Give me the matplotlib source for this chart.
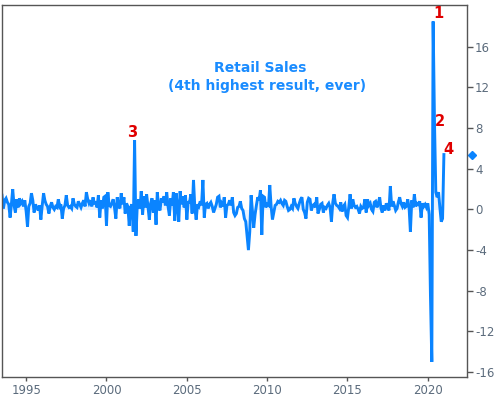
import matplotlib
matplotlib.use("Agg")
import matplotlib.pyplot as plt
import matplotlib.transforms as mtransforms
import pandas as pd

# Monthly % change in retail sales, Jul 1993 - Jan 2021
v1993 = [1.4, 0.1, 0.9, 1.1, 0.7, 0.5]
v1994 = [-0.8, 0.6, 2.0, 0.4, -0.3, 1.0, 0.2, 1.1, 0.6, 0.8, 0.3, 0.9]
v1995 = [-0.2, -1.7, 0.3, 0.6, 1.6, 0.9, -0.3, 0.5, 0.2, -0.1, 0.4, -1.0]
v1996 = [0.4, 1.6, 0.9, 0.5, 0.3, -0.4, 0.3, 0.7, 0.2, 0.0, 0.3, 0.2]
v1997 = [1.0, 0.3, 0.5, -0.9, 0.1, 0.4, 1.4, 0.4, 0.2, 0.3, 0.1, 1.1]
v1998 = [0.5, 0.3, 0.2, 0.8, 0.5, 0.2, 0.6, 0.9, 0.3, 1.7, 1.0, 0.6]
v1999 = [0.9, 0.3, 1.2, 0.5, 0.8, 0.2, 1.4, -0.8, 0.9, 0.1, 1.2, 1.3]
v2000 = [-1.6, 1.7, 0.4, 0.3, 0.6, 1.0, 0.2, -0.9, 1.2, 0.4, 0.1, 1.6]
v2001 = [0.5, 1.2, -0.4, 0.6, 0.3, -1.6, 0.2, 0.5, -2.2, 6.8, -2.6, 0.4]
v2002 = [1.0, 0.1, 1.8, -0.5, 1.3, 0.2, 1.5, 0.3, -1.0, 0.6, 1.1, -0.3]
v2003 = [0.9, -1.5, 1.7, 0.2, -0.1, 1.1, 0.7, 1.3, 0.4, 1.7, 0.3, -0.6]
v2004 = [1.1, 0.4, 1.7, -1.1, 1.6, 0.3, -1.2, 1.8, 0.5, 1.3, 0.2, 1.4]
v2005 = [-1.0, 0.8, 0.6, 1.5, -0.4, 2.9, 0.2, -1.0, 0.5, 0.3, 0.8, 0.4]
v2006 = [2.9, -0.8, 0.5, 0.6, 0.1, 0.5, 0.7, 0.3, -0.3, 0.1, 0.5, 1.2]
v2007 = [1.3, 0.2, 0.6, 0.3, 1.2, -0.8, 0.4, 0.5, 0.9, 0.4, 1.2, -0.3]
v2008 = [-0.6, -0.4, 0.2, 0.3, 0.8, 0.1, -0.1, -0.9, -1.2, -2.6, -4.0, -2.2]
v2009 = [1.4, -0.2, -1.8, -0.5, 0.4, 1.2, 0.9, 1.9, -2.5, 1.3, 1.2, 0.2]
v2010 = [0.5, 0.4, 2.4, 0.3, -1.0, -0.3, 0.4, 0.5, 0.8, 0.7, 0.9, 0.6]
v2011 = [0.4, 0.9, 0.8, 0.3, -0.1, 0.0, 0.3, 0.1, 1.1, 0.6, 0.3, 0.1]
v2012 = [0.6, 1.0, 1.2, 0.0, -0.3, -0.9, 0.7, 1.1, 1.0, -0.1, 0.4, 0.5]
v2013 = [0.2, 1.2, -0.4, 0.0, 0.5, 0.6, -0.3, 0.2, 0.1, 0.4, 0.6, 0.2]
v2014 = [-1.2, 0.7, 1.5, 0.6, 0.4, 0.3, 0.1, 0.7, -0.2, 0.3, 0.5, -0.6]
v2015 = [-0.8, 0.3, 1.5, 0.1, 1.0, 0.4, 0.2, 0.3, 0.0, -0.4, 0.3, 0.1]
v2016 = [0.2, 1.0, -0.3, 1.0, 0.4, 0.6, 0.0, -0.2, 0.7, 0.8, 0.2, 0.6]
v2017 = [1.2, 0.1, -0.3, 0.4, -0.1, 0.6, 0.3, -0.1, 2.3, 0.3, 0.8, 0.4]
v2018 = [-0.1, 0.1, 0.7, 1.2, 0.6, 0.3, 0.7, 0.2, 0.3, 1.0, 0.2, -2.2]
v2019 = [0.9, 0.2, 1.5, 0.3, 0.6, 0.5, 0.8, -0.8, 0.6, 0.3, 0.5, 0.2]
v2020 = [0.6, -0.5, -8.4, -15.0, 18.5, 8.5, 1.7, 1.2, 1.7, 0.2, -1.2, -0.9]
v2021 = [5.4]

values = (v1993 + v1994 + v1995 + v1996 + v1997 + v1998 + v1999 + v2000 + v2001
          + v2002 + v2003 + v2004 + v2005 + v2006 + v2007 + v2008 + v2009 + v2010
          + v2011 + v2012 + v2013 + v2014 + v2015 + v2016 + v2017 + v2018 + v2019
          + v2020 + v2021)
dates = pd.date_range("1993-07-01", periods=len(values), freq="MS")

yticks = [-16, -12, -8, -4, 0, 4, 8, 12, 16]
xtick_years = [1995, 2000, 2005, 2010, 2015, 2020]
title_lines = ["Retail Sales", "(4th highest result, ever)"]
rank_labels = {"1": "2020-05-01", "2": "2020-06-01", "3": "2001-10-01", "4": "2021-01-01"}

blue = "#0a84ff"
red = "#e00000"
gray = "#555555"
tickc = "#5b6b7c"

fig = plt.figure(figsize=(5.03, 3.97), dpi=100)
ax = fig.add_axes([0.004, 0.050, 0.924, 0.937])

ax.fill_between(dates, values, 0, color=blue, alpha=0.1, linewidth=0)
ax.plot(dates, values, color=blue, lw=2.1, solid_joinstyle="miter")

ax.set_ylim(-16.5, 20.1)
ax.set_xlim(dates[0], pd.Timestamp("2022-06-05"))
ax.yaxis.tick_right()
ax.set_yticks(yticks)
ax.set_yticklabels([str(t) for t in yticks])
ax.set_xticks([pd.Timestamp(f"{y}-01-01") for y in xtick_years])
ax.set_xticklabels([str(y) for y in xtick_years])
ax.tick_params(axis="y", which="both", direction="out", length=4, width=1,
               color=gray, labelcolor=tickc, labelsize=8.5, pad=2)
ax.tick_params(axis="x", which="both", direction="out", length=3, width=1,
               color=gray, labelcolor=tickc, labelsize=8.5, pad=2)
for s in ax.spines.values():
    s.set_color(gray)
    s.set_linewidth(1)

# last-value marker outside the axes
trans = mtransforms.blended_transform_factory(ax.transAxes, ax.transData)
ax.plot([1.011], [values[-1]], marker="D", ms=4, color=blue, transform=trans,
        clip_on=False, lw=0)

ax.text(pd.Timestamp("2009-08-01"), 13.9, title_lines[0], color="#1a8cff",
        fontsize=10, fontweight="bold", ha="center", va="center")
ax.text(pd.Timestamp("2010-01-01"), 12.1, title_lines[1], color="#1a8cff",
        fontsize=10, fontweight="bold", ha="center", va="center")

offsets = {"1": (4, 0), "2": (4, -4), "3": (-1.5, 0), "4": (3, -2)}
for lab, d in rank_labels.items():
    ts = pd.Timestamp(d)
    val = values[list(dates).index(ts)]
    ax.annotate(lab, (ts, val), xytext=offsets[lab], textcoords="offset points",
                color=red, fontsize=10.5, fontweight="bold", ha="center",
                va="bottom", annotation_clip=False)

fig.savefig("out.png", dpi=100)
